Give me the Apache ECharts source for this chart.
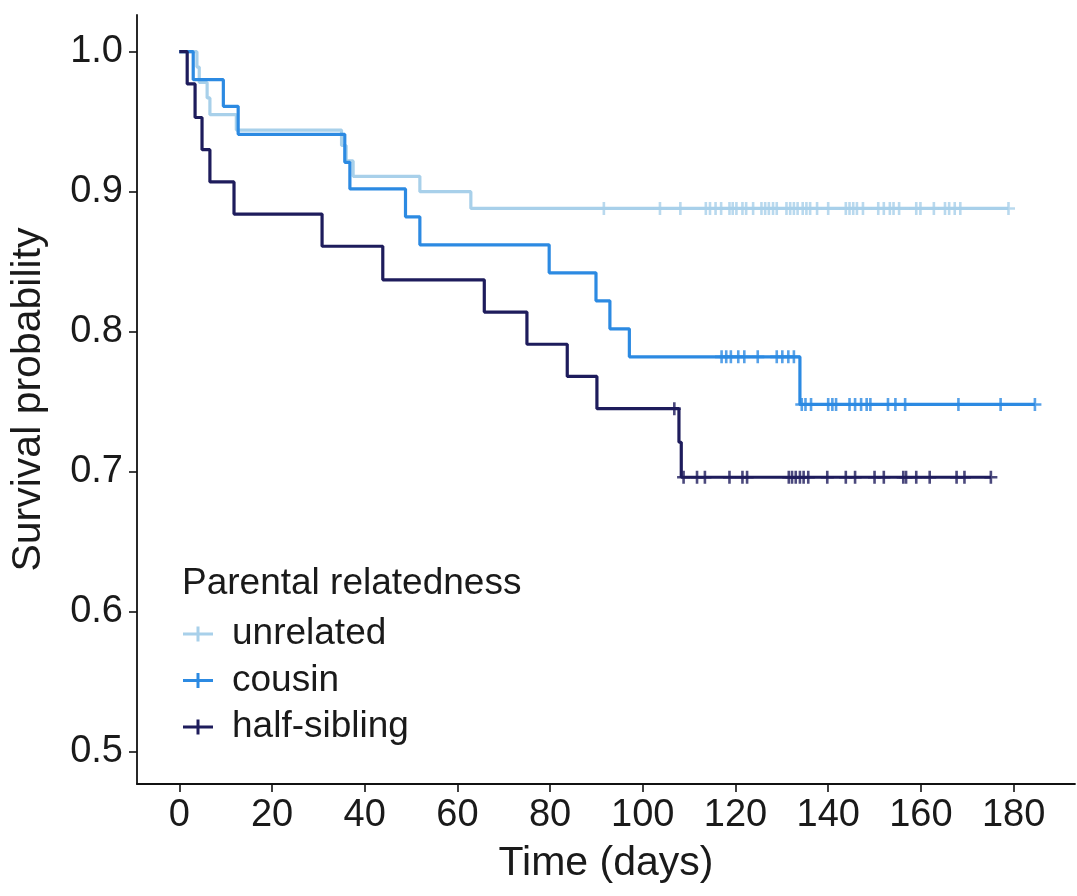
<!DOCTYPE html>
<html><head><meta charset="utf-8">
<script src="https://cdn.jsdelivr.net/npm/echarts@6/dist/echarts.min.js"></script>
<style>html,body{margin:0;padding:0;background:#fff}#c{width:1077px;height:896px}</style>
</head><body><div id="c"></div>
<script>
// ---- data ----
const groupNames = ['unrelated', 'cousin', 'half-sibling'];
const xTicks = [0, 20, 40, 60, 80, 100, 120, 140, 160, 180];
const yTicks = [0.5, 0.6, 0.7, 0.8, 0.9, 1.0];

const unrelatedTimes = [0, 3.8, 4.3, 6.0, 6.6, 12.3, 35.0, 36.0, 37.5, 51.9, 62.9, 178.9];
const unrelatedSurv  = [1, 0.989, 0.978, 0.967, 0.955, 0.944, 0.933, 0.922, 0.911, 0.900, 0.888, 0.888];
const unrelatedCensor = [91.6, 103.7, 108.1, 113.6, 114.5, 115.7, 116.9, 118.7, 119.4, 120.2, 121.5, 122.3,
  123.8, 125.6, 126.4, 127.2, 128.1, 128.9, 131.0, 131.8, 132.6, 133.4, 134.5, 135.3, 136.1, 137.6, 140.0,
  143.8, 144.6, 145.4, 146.2, 147.5, 150.8, 152.0, 153.3, 154.1, 155.3, 159.0, 159.9, 162.8, 165.2, 166.1,
  167.3, 168.5, 178.9];

const cousinTimes = [0, 3.0, 9.5, 12.7, 35.7, 36.8, 48.8, 51.9, 79.8, 89.9, 92.9, 97.1, 133.9, 184.6];
const cousinSurv  = [1, 0.980, 0.961, 0.941, 0.921, 0.902, 0.882, 0.862, 0.842, 0.822, 0.802, 0.782, 0.748, 0.748];
const cousinCensor = [117.0, 118.0, 119.0, 120.6, 121.9, 124.8, 128.9, 130.1, 131.4, 132.6,
  134.3, 135.1, 136.3, 140.0, 140.9, 141.7, 144.6, 145.8, 147.1, 148.3, 149.1, 152.9, 154.5, 156.6,
  168.1, 177.2, 184.6];

const halfSibTimes = [0, 1.7, 3.4, 4.9, 6.6, 11.8, 30.8, 43.9, 65.8, 75.0, 83.7, 90.1, 107.8, 108.3, 175.1];
const halfSibSurv  = [1, 0.977, 0.953, 0.930, 0.907, 0.884, 0.861, 0.837, 0.814, 0.791, 0.768, 0.745, 0.721, 0.696, 0.696];
const halfSibCensor = [106.8, 108.8, 111.7, 113.4, 118.7, 121.5, 122.5, 131.5, 132.2, 133.0, 133.9, 134.7,
  135.7, 139.8, 143.8, 145.8, 150.0, 152.0, 156.2, 156.8, 159.0, 161.9, 167.7, 169.4, 175.1];

const groupColors = ['#a8d0ea', '#2c8ae2', '#1e1c5c'];

// ---- build ----
function stepValue(times, surv, t) {
  let v = surv[0];
  for (let i = 0; i < times.length; i++) if (times[i] <= t) v = surv[i];
  return v;
}
const groups = [
  [unrelatedTimes, unrelatedSurv, unrelatedCensor],
  [cousinTimes, cousinSurv, cousinCensor],
  [halfSibTimes, halfSibSurv, halfSibCensor]
];
const plusPath = 'path://M-1,-0.2 L-0.2,-0.2 L-0.2,-1 L0.2,-1 L0.2,-0.2 L1,-0.2 L1,0.2 L0.2,0.2 L0.2,1 L-0.2,1 L-0.2,0.2 L-1,0.2 Z';
const legendIcon = 'path://M0,6 L13.5,6 L13.5,0 L16.5,0 L16.5,6 L30,6 L30,9 L16.5,9 L16.5,15 L13.5,15 L13.5,9 L0,9 Z';
const FONT = 'Liberation Sans, Arial, sans-serif';
const TXT = '#1a1a1a';

const series = [];
groups.forEach((g, i) => {
  const [times, surv, cens] = g;
  series.push({
    name: groupNames[i], type: 'line', step: 'end', symbol: 'none',
    color: groupColors[i],
    lineStyle: { width: 3.2, color: groupColors[i] },
    data: times.map((t, k) => [t, surv[k]]),
    z: 2 + i, animation: false
  });
  series.push({
    name: groupNames[i] + ' censored', type: 'scatter', symbol: plusPath, symbolSize: 13,
    itemStyle: { color: groupColors[i] },
    data: cens.map(t => [t, stepValue(times, surv, t)]),
    z: 2 + i, animation: false
  });
});

const chart = echarts.init(document.getElementById('c'), null, { renderer: 'canvas' });
chart.setOption({
  backgroundColor: '#fff',
  animation: false,
  textStyle: { fontFamily: FONT },
  grid: { left: 137, right: 2, top: 15, bottom: 112, containLabel: false },
  title: {
    text: 'Parental relatedness', left: 177, top: 560,
    textStyle: { fontFamily: FONT, fontSize: 37, fontWeight: 'normal', color: TXT }
  },
  legend: {
    orient: 'vertical', left: 178, top: 610, itemGap: 8.5, itemWidth: 30, itemHeight: 15,
    data: groupNames.map(n => ({ name: n, icon: legendIcon })),
    textStyle: { fontFamily: FONT, fontSize: 37, color: TXT, lineHeight: 38, padding: [0, 0, 0, 14] },
    selectedMode: false
  },
  xAxis: {
    type: 'value', min: -9.13, max: 193.25,
    name: 'Time (days)', nameLocation: 'middle', nameGap: 59,
    nameTextStyle: { fontFamily: FONT, fontSize: 41, color: TXT },
    splitLine: { show: false },
    axisLine: { show: true, onZero: false, lineStyle: { color: '#111', width: 1.8 } },
    axisTick: { show: true, length: 8, customValues: xTicks, lineStyle: { color: '#111', width: 1.6 } },
    axisLabel: { customValues: xTicks, fontFamily: FONT, fontSize: 38, color: TXT, margin: 13 }
  },
  yAxis: {
    type: 'value', min: 0.4769, max: 1.0262,
    name: 'Survival probability', nameLocation: 'middle', nameGap: 88,
    nameTextStyle: { fontFamily: FONT, fontSize: 41, color: TXT },
    splitLine: { show: false },
    axisLine: { show: true, onZero: false, lineStyle: { color: '#111', width: 1.8 } },
    axisTick: { show: true, length: 8, customValues: yTicks, lineStyle: { color: '#111', width: 1.6 } },
    axisLabel: { customValues: yTicks, fontFamily: FONT, fontSize: 38, color: TXT, margin: 14,
      formatter: v => v.toFixed(1) }
  },
  series: series
});
</script>
</body></html>
